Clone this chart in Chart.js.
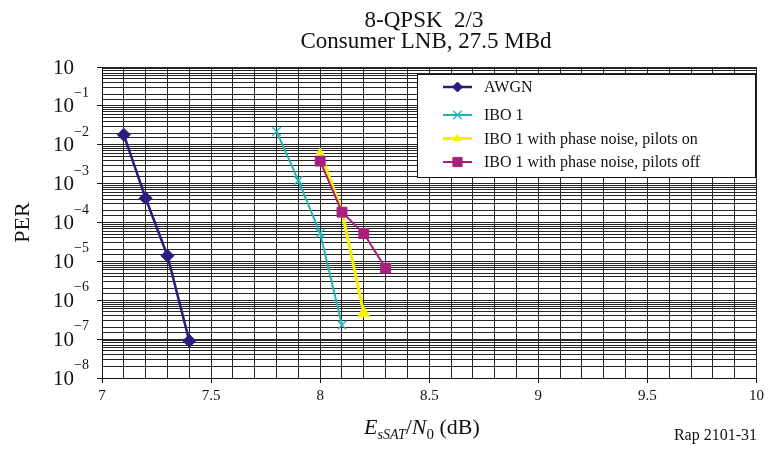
<!DOCTYPE html>
<html>
<head>
<meta charset="utf-8">
<script src="https://cdn.jsdelivr.net/npm/chart.js@4/dist/chart.umd.min.js"></script>
<style>
  html, body { margin: 0; padding: 0; background: #ffffff; }
  #wrap { width: 768px; height: 457px; position: relative; }
</style>
</head>
<body>
<div id="wrap"><canvas id="c" width="768" height="457"></canvas></div>
<script>
// Packet error rate versus Es(SAT)/N0 for 8-QPSK 2/3
const awgnSNR = [7.1, 7.2, 7.3, 7.4];
const awgnPER = [1.8e-2, 4.2e-4, 1.4e-5, 9e-8];

const iboSNR = [7.8, 7.9, 8.0, 8.1];
const iboPER = [2.2e-2, 1.2e-3, 5.3e-5, 2.3e-7];

const pilotsOnSNR = [8.0, 8.1, 8.2];
const pilotsOnPER = [6.5e-3, 1.9e-4, 4.6e-7];

const pilotsOffSNR = [8.0, 8.1, 8.2, 8.3];
const pilotsOffPER = [3.8e-3, 1.85e-4, 5.2e-5, 6.7e-6];

const seriesNames = [
  'AWGN',
  'IBO 1',
  'IBO 1 with phase noise, pilots on',
  'IBO 1 with phase noise, pilots off'
];

const yDecades = [0, -1, -2, -3, -4, -5, -6, -7, -8];
const xMin = 7, xMax = 10;

const SERIF = '"Liberation Serif", "DejaVu Serif", serif';

function pts(xs, ys) { return xs.map((x, i) => ({ x: x, y: ys[i] })); }

const isHalf = v => Math.abs(v * 2 - Math.round(v * 2)) < 1e-6;

// Left-axis power-of-ten labels, axis titles and caption
const textPlugin = {
  id: 'textPlugin',
  afterDraw(chart) {
    const ctx = chart.ctx;
    const y = chart.scales.y;
    const area = chart.chartArea;
    ctx.save();
    ctx.fillStyle = '#111';

    // y tick labels
    yDecades.forEach(k => {
      const py = y.getPixelForValue(Math.pow(10, k));
      ctx.font = '21px ' + SERIF;
      ctx.textBaseline = 'middle';
      ctx.textAlign = 'left';
      ctx.fillText('10', 53, py + 1);
      if (k !== 0) {
        ctx.font = '14px ' + SERIF;
        ctx.textBaseline = 'alphabetic';
        ctx.fillText('\u2212' + (-k), 74, py - 9);
      }
    });

    // y title
    ctx.save();
    ctx.translate(29, (area.top + area.bottom) / 2);
    ctx.rotate(-Math.PI / 2);
    ctx.font = '22px ' + SERIF;
    ctx.textAlign = 'center';
    ctx.textBaseline = 'alphabetic';
    ctx.fillText('PER', 0, 0);
    ctx.restore();

    // chart title
    ctx.font = '23px ' + SERIF;
    ctx.textAlign = 'center';
    ctx.textBaseline = 'alphabetic';
    ctx.fillText('8-QPSK  2/3', 424, 27);
    ctx.fillText('Consumer LNB, 27.5 MBd', 426, 48);

    // x title: E_sSAT / N_0 (dB)
    const parts = [
      { t: 'E', f: 'italic 22px ' + SERIF, dy: 0 },
      { t: 'sSAT', f: 'italic 14px ' + SERIF, dy: 5 },
      { t: '/', f: '22px ' + SERIF, dy: 0 },
      { t: 'N', f: 'italic 22px ' + SERIF, dy: 0 },
      { t: '0', f: '15px ' + SERIF, dy: 5 },
      { t: ' (dB)', f: '22px ' + SERIF, dy: 0 }
    ];
    let px = 364;
    ctx.textAlign = 'left';
    parts.forEach(p => {
      ctx.font = p.f;
      ctx.fillText(p.t, px, 434 + p.dy);
      px += ctx.measureText(p.t).width;
    });

    // figure reference
    ctx.font = '16px ' + SERIF;
    ctx.textAlign = 'right';
    ctx.fillText('Rap 2101-31', 757, 440);
    ctx.restore();
  }
};

// Boxed legend inside the plot area
const legendPlugin = {
  id: 'boxLegend',
  afterDatasetsDraw(chart) {
    const ctx = chart.ctx;
    const box = { x: 417, y: 74, w: 338, h: 103 };
    const rows = [87, 115, 138.5, 162];
    ctx.save();
    ctx.fillStyle = '#ffffff';
    ctx.fillRect(box.x, box.y, box.w, box.h);
    ctx.strokeStyle = '#111';
    ctx.lineWidth = 1;
    ctx.strokeRect(box.x + 0.5, box.y + 0.5, box.w, box.h);

    chart.data.datasets.forEach((ds, i) => {
      const ry = rows[i];
      ctx.strokeStyle = ds.borderColor;
      ctx.lineWidth = ds.borderWidth;
      ctx.beginPath();
      ctx.moveTo(443, ry);
      ctx.lineTo(472, ry);
      ctx.stroke();
      ctx.fillStyle = ds.pointBackgroundColor;
      ctx.strokeStyle = ds.pointBorderColor;
      ctx.lineWidth = ds.pointBorderWidth || 1;
      Chart.helpers.drawPoint(ctx, {
        pointStyle: ds.pointStyle,
        radius: ds.legendRadius,
        borderWidth: ds.pointBorderWidth || 1,
        rotation: 0
      }, 457.5, ry);
      ctx.fillStyle = '#111';
      ctx.font = '16px ' + SERIF;
      ctx.textAlign = 'left';
      ctx.textBaseline = 'middle';
      ctx.fillText(ds.label, 484, ry + 1);
    });
    ctx.restore();
  }
};

const NAVY = '#2c1c7e';
const CYAN = '#22b4b4';
const YELLOW = '#f7f000';
const MAGENTA = '#a8207c';
const GRID = '#262626';

new Chart(document.getElementById('c'), {
  type: 'line',
  data: {
    datasets: [
      {
        label: seriesNames[0],
        data: pts(awgnSNR, awgnPER),
        borderColor: NAVY, backgroundColor: NAVY,
        pointBackgroundColor: NAVY, pointBorderColor: NAVY,
        borderWidth: 2.5, pointStyle: 'rectRot', pointRadius: 6.5, legendRadius: 5,
        pointBorderWidth: 1, order: 0
      },
      {
        label: seriesNames[1],
        data: pts(iboSNR, iboPER),
        borderColor: CYAN, backgroundColor: CYAN,
        pointBackgroundColor: CYAN, pointBorderColor: CYAN,
        borderWidth: 2, pointStyle: 'crossRot', pointRadius: 6, legendRadius: 6,
        pointBorderWidth: 1.3, order: 0
      },
      {
        label: seriesNames[2],
        data: pts(pilotsOnSNR, pilotsOnPER),
        borderColor: YELLOW, backgroundColor: YELLOW,
        pointBackgroundColor: YELLOW, pointBorderColor: YELLOW,
        borderWidth: 3, pointStyle: 'triangle', pointRadius: [4, 5, 7], legendRadius: 4,
        pointBorderWidth: 1, order: 1
      },
      {
        label: seriesNames[3],
        data: pts(pilotsOffSNR, pilotsOffPER),
        borderColor: MAGENTA, backgroundColor: MAGENTA,
        pointBackgroundColor: MAGENTA, pointBorderColor: MAGENTA,
        borderWidth: 2, pointStyle: 'rect', pointRadius: 7, legendRadius: 6.5,
        pointBorderWidth: 1, order: 0
      }
    ]
  },
  options: {
    responsive: false,
    animation: false,
    devicePixelRatio: 1,
    layout: { padding: { top: 67, right: 10, bottom: 0, left: 0 } },
    plugins: {
      legend: { display: false },
      title: { display: false },
      tooltip: { enabled: false }
    },
    elements: { line: { tension: 0 } },
    scales: {
      x: {
        type: 'linear',
        min: xMin, max: xMax,
        afterFit(scale) { scale.height = 79; },
        border: { display: true, color: '#111', width: 1 },
        grid: {
          color: GRID,
          lineWidth: 1,
          drawTicks: true,
          tickLength: 5,
          tickColor: c => (c.tick && isHalf(c.tick.value)) ? '#111' : 'rgba(0,0,0,0)'
        },
        ticks: {
          stepSize: 0.1,
          autoSkip: false,
          maxRotation: 0,
          padding: 4,
          color: '#111',
          font: { family: SERIF, size: 15 },
          callback: v => isHalf(v) ? String(Math.round(v * 2) / 2) : ''
        }
      },
      y: {
        type: 'logarithmic',
        min: 1e-8, max: 1,
        afterFit(scale) { scale.width = 102; },
        border: { display: true, color: '#111', width: 1 },
        grid: {
          color: GRID,
          lineWidth: 1,
          drawTicks: true,
          tickLength: 5,
          tickColor: c => {
            if (!c.tick) return 'rgba(0,0,0,0)';
            const l = Math.log10(c.tick.value);
            return Math.abs(l - Math.round(l)) < 1e-6 ? '#111' : 'rgba(0,0,0,0)';
          }
        },
        ticks: { display: false }
      }
    }
  },
  plugins: [legendPlugin, textPlugin]
});
</script>
</body>
</html>
